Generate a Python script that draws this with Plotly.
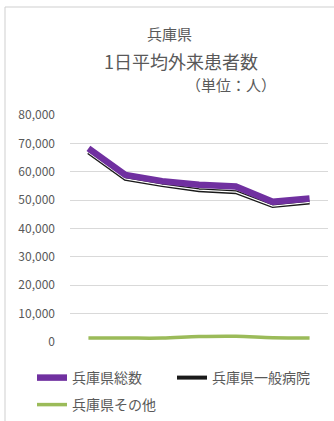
import plotly.graph_objects as go

FONT = "Noto Sans CJK JP"
GRAY = "#595959"

years = ["2013", "2014", "2015", "2016", "2017", "2018", "2019"]
total = [68200, 58900, 56700, 55400, 54800, 49400, 50600]
general = [66800, 57500, 55300, 53500, 52800, 47900, 49200]
other = [1400, 1400, 1400, 1900, 2000, 1500, 1400]
y_ticks = [0, 10000, 20000, 30000, 40000, 50000, 60000, 70000, 80000]

W, H = 334, 421
L, R, T, B = 70, 6, 115, 79

fig = go.Figure()
# 一般病院: 黒枠+白抜きの線
fig.add_trace(go.Scatter(x=years, y=general, mode="lines", name="兵庫県一般病院",
                         legend="legend2",
                         line=dict(color="#1a1a1a", width=4)))
fig.add_trace(go.Scatter(x=years, y=general, mode="lines", showlegend=False,
                         hoverinfo="skip", line=dict(color="#ffffff", width=1.2)))
fig.add_trace(go.Scatter(x=years, y=total, mode="lines", name="兵庫県総数",
                         legend="legend",
                         line=dict(color="#7030A0", width=6.5)))
fig.add_trace(go.Scatter(x=years, y=other, mode="lines", name="兵庫県その他",
                         legend="legend3",
                         line=dict(color="#9BBB59", width=3.5, shape="spline")))

leg = dict(orientation="h", xref="container", yref="container",
           xanchor="left", yanchor="middle", itemwidth=30,
           font=dict(size=14, color=GRAY, family=FONT), bgcolor="rgba(0,0,0,0)")
fig.update_layout(
    width=W, height=H, autosize=False,
    margin=dict(l=L, r=R, t=T, b=B, autoexpand=False),
    paper_bgcolor="white", plot_bgcolor="white",
    font=dict(family=FONT, color=GRAY, size=11),
    showlegend=True,
    legend=dict(leg, x=32 / W, y=1 - 378 / H),
    legend2=dict(leg, x=172 / W, y=1 - 378 / H),
    legend3=dict(leg, x=32 / W, y=1 - 405 / H),
)
fig.update_xaxes(showticklabels=False, showgrid=False, zeroline=False,
                 showline=False, range=[-0.5, 6.5])
fig.update_yaxes(range=[0, 80000], tickvals=y_ticks, tickformat=",",
                 gridcolor="#d9d9d9", gridwidth=1, zeroline=False,
                 showline=False, ticks="", ticklabelstandoff=14, automargin=False,
                 tickfont=dict(size=12, color=GRAY))

pw, ph = W - L - R, H - T - B


def px_x(v):
    return (v - L) / pw


def px_y(v):
    return (H - B - v) / ph


# タイトル（3行）
for txt, cx, cy, sz in [("兵庫県", 169, 34, 15),
                        ("1日平均外来患者数", 181, 61, 18),
                        ("（単位：人）", 231, 84, 15)]:
    fig.add_annotation(text=txt, x=px_x(cx), y=px_y(cy), xref="paper", yref="paper",
                       xanchor="center", yanchor="middle", showarrow=False,
                       font=dict(size=sz, color=GRAY))

# グラフ枠
fig.add_shape(type="line", xref="paper", yref="paper",
              x0=px_x(5), x1=px_x(5), y0=px_y(H), y1=px_y(7),
              line=dict(color="#cfcfcf", width=1))
fig.add_shape(type="line", xref="paper", yref="paper",
              x0=px_x(5), x1=px_x(W), y0=px_y(7), y1=px_y(7),
              line=dict(color="#cfcfcf", width=1))

# ブラウザ既定の body の余白を消す
fig.write_html("out.html", config={"displayModeBar": False},
               post_script="document.body.style.margin='0';")
